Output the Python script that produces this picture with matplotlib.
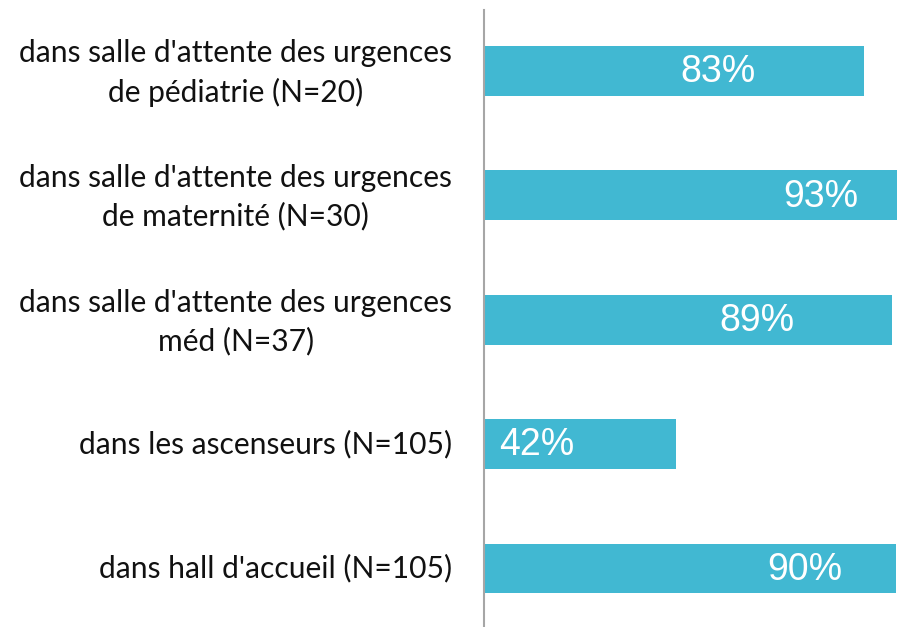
import matplotlib
matplotlib.use("Agg")
import matplotlib.pyplot as plt
from matplotlib.transforms import ScaledTranslation, blended_transform_factory

categories = [
    "dans salle d'attente des urgences\nde pédiatrie (N=20)",
    "dans salle d'attente des urgences\nde maternité (N=30)",
    "dans salle d'attente des urgences\nméd (N=37)",
    "dans les ascenseurs (N=105)",
    "dans hall d'accueil (N=105)",
]
values = [83, 93, 89, 42, 90]
value_labels = ["83%", "93%", "89%", "42%", "90%"]
# label anchor positions (in % units, as placed in the original chart)
label_x = [51.1, 73.6, 59.6, 11.6, 70.1]

W, H = 897, 627
fig = plt.figure(figsize=(W / 100, H / 100), dpi=100)
ax = fig.add_axes([484 / W, 0, 1 - 484 / W, 617 / H])

ypos = list(range(len(categories)))
ax.barh(ypos, values, height=0.4, color="#41B8D2", edgecolor="none")
ax.set_xlim(0, 90.2)
ax.set_ylim(4.47, -0.49)

for y, lx, lab in zip(ypos, label_x, value_labels):
    ax.text(lx, y + 0.01, lab, ha="center", va="center", color="white",
            fontsize=27, family="Liberation Sans")

base = blended_transform_factory(ax.transAxes, ax.transData)
for y, cat in zip(ypos, categories):
    dy = -1.5 / 72 if "\n" in cat else 0
    tr = base + ScaledTranslation(-32 / 100, dy, fig.dpi_scale_trans)
    ax.text(0, y, cat, transform=tr, ha="right", va="center",
            multialignment="center", fontsize=21.6, family="Lato",
            color="#111111", linespacing=1.42)

ax.set_yticks([])
ax.set_xticks([])
for s in ["top", "right", "bottom"]:
    ax.spines[s].set_visible(False)
ax.spines["left"].set_color("#a6a6a6")
ax.spines["left"].set_linewidth(1.5)

fig.savefig("out.png", dpi=100)
